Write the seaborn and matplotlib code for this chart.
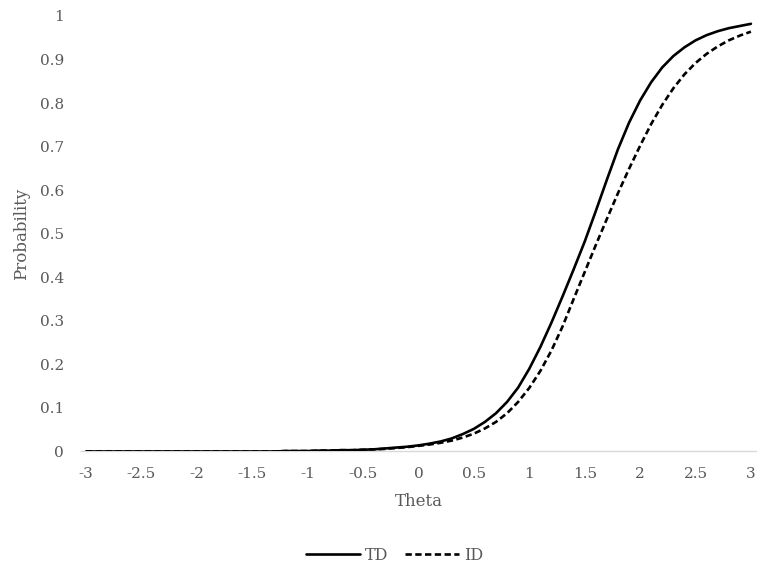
import numpy as np
import pandas as pd
import matplotlib
matplotlib.use("Agg")
import matplotlib.pyplot as plt
import seaborn as sns

# values (theta step 0.1, -3 .. 3)
theta = [round(-3 + 0.1 * i, 1) for i in range(61)]

td = [0.000] * 18 + [
    0.001, 0.001, 0.001, 0.002, 0.002, 0.003, 0.003, 0.004, 0.005, 0.007,
    0.009, 0.011, 0.014, 0.018, 0.023, 0.030, 0.040, 0.052, 0.068, 0.088,
    0.114, 0.147, 0.190, 0.240, 0.296, 0.356, 0.418, 0.482, 0.552, 0.624,
    0.694, 0.755, 0.806, 0.848, 0.882, 0.908, 0.928, 0.944, 0.956, 0.965,
    0.972, 0.977, 0.982,
]

id_ = [0.000] * 18 + [
    0.001, 0.001, 0.001, 0.002, 0.002, 0.003, 0.003, 0.004, 0.005, 0.006,
    0.008, 0.010, 0.013, 0.016, 0.020, 0.025, 0.032, 0.041, 0.053, 0.068,
    0.088, 0.114, 0.146, 0.185, 0.232, 0.287, 0.350, 0.412, 0.474, 0.534,
    0.593, 0.649, 0.702, 0.752, 0.796, 0.834, 0.866, 0.892, 0.913, 0.930,
    0.944, 0.955, 0.964,
]

x_ticks = [-3, -2.5, -2, -1.5, -1, -0.5, 0, 0.5, 1, 1.5, 2, 2.5, 3]
x_tick_labels = ["-3", "-2.5", "-2", "-1.5", "-1", "-0.5", "0", "0.5", "1", "1.5", "2", "2.5", "3"]
y_ticks = [0, 0.1, 0.2, 0.3, 0.4, 0.5, 0.6, 0.7, 0.8, 0.9, 1]
y_tick_labels = ["0", "0.1", "0.2", "0.3", "0.4", "0.5", "0.6", "0.7", "0.8", "0.9", "1"]

sns.set_theme(style="white")
plt.rcParams["font.family"] = ["DejaVu Serif"]

GREY = "#595959"

fig = plt.figure(figsize=(7.69, 5.75), dpi=100)
ax = fig.add_axes([0.1047, 0.2148, 0.879, 0.7574])

sns.lineplot(x=theta, y=td, ax=ax, color="black", linewidth=1.9, label="TD")
sns.lineplot(x=theta, y=id_, ax=ax, color="black", linewidth=1.9,
             linestyle=(0, (2.4, 1.3)), label="ID")

ax.set_xlim(-3.05, 3.05)
ax.set_ylim(0, 1)
ax.set_xticks(x_ticks)
ax.set_xticklabels(x_tick_labels)
ax.set_yticks(y_ticks)
ax.set_yticklabels(y_tick_labels)
ax.tick_params(axis="both", length=0, labelsize=11, labelcolor=GREY)
ax.tick_params(axis="x", pad=11)
ax.tick_params(axis="y", pad=12)

for side in ["top", "right", "left"]:
    ax.spines[side].set_visible(False)
ax.spines["bottom"].set_color("#d9d9d9")
ax.spines["bottom"].set_linewidth(1.0)
ax.spines["bottom"].set_zorder(0)

ax.set_xlabel("Theta", fontsize=12, color=GREY, labelpad=9)
ax.set_ylabel("Probability", fontsize=12, color=GREY, labelpad=7)

ax.legend(loc="center", bbox_to_anchor=(0.513, 0.034), bbox_transform=fig.transFigure,
          ncol=2, frameon=False, fontsize=11.5, labelcolor=GREY,
          handlelength=3.4, handletextpad=0.3, columnspacing=1.0)

fig.savefig("out.png", dpi=100)
plt.close(fig)
